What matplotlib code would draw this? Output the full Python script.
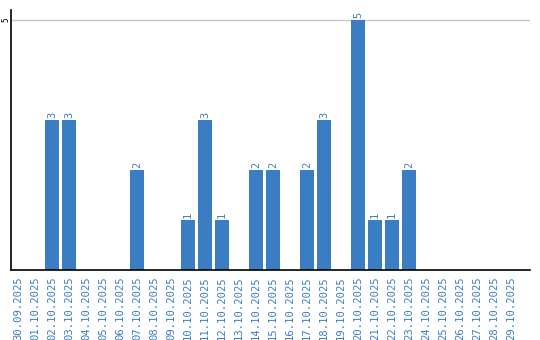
import matplotlib
matplotlib.use("Agg")
import matplotlib.pyplot as plt

dates = ["30.09.2025", "01.10.2025", "02.10.2025", "03.10.2025", "04.10.2025",
         "05.10.2025", "06.10.2025", "07.10.2025", "08.10.2025", "09.10.2025",
         "10.10.2025", "11.10.2025", "12.10.2025", "13.10.2025", "14.10.2025",
         "15.10.2025", "16.10.2025", "17.10.2025", "18.10.2025", "19.10.2025",
         "20.10.2025", "21.10.2025", "22.10.2025", "23.10.2025", "24.10.2025",
         "25.10.2025", "26.10.2025", "27.10.2025", "28.10.2025", "29.10.2025"]
values = [0, 0, 3, 3, 0, 0, 0, 2, 0, 0,
          1, 3, 1, 0, 2, 2, 0, 2, 3, 0,
          5, 1, 1, 2, 0, 0, 0, 0, 0, 0]
ytick_values = [5]

bar_color = "#3b7dc3"
text_color = "#3b7dc3"
font = "DejaVu Sans Mono"

fig = plt.figure(figsize=(5.4, 3.4), dpi=100)
ax = fig.add_axes([11/540, 70/340, 519/540, 260/340])

x = list(range(len(dates)))
bars = ax.bar(x, values, width=0.82, color=bar_color, zorder=2)
for xi, v in zip(x, values):
    if v > 0:
        ax.annotate(str(v), (xi, v), xytext=(0, 1.5), textcoords="offset points",
                    rotation=90, ha="center", va="bottom", color=text_color,
                    fontsize=7.5, family=font)

ax.set_xlim(-0.41, 30.12)
ax.set_ylim(0, 5.2)
ax.set_yticks(ytick_values)
ax.set_yticklabels([str(t) for t in ytick_values], rotation=90, va="center",
                   fontsize=5.5, family=font, color="black")
ax.yaxis.grid(True, color="#c8c8c8", linewidth=1, zorder=0)
ax.tick_params(axis="y", length=0, pad=0.3)
ax.set_xticks(x)
ax.set_xticklabels(dates, rotation=90, fontsize=7.6, family=font, color=text_color)
ax.tick_params(axis="x", length=0, pad=4.5)

for s in ["top", "right"]:
    ax.spines[s].set_visible(False)
ax.spines["left"].set_color("black")
ax.spines["bottom"].set_color("black")
ax.spines["left"].set_linewidth(1.2)
ax.spines["bottom"].set_linewidth(1.2)

fig.savefig("out.png", dpi=100)
